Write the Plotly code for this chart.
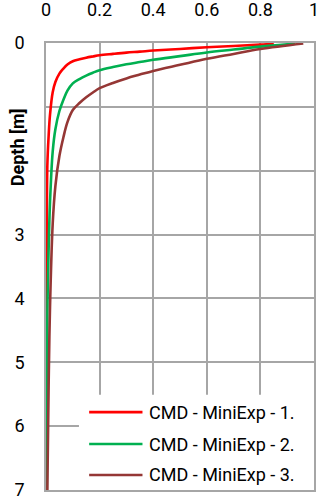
import plotly.graph_objects as go

# Cumulative response vs depth for the three CMD Mini-Explorer coil configurations
series_names = ["CMD - MiniExp - 1.", "CMD - MiniExp - 2.", "CMD - MiniExp - 3."]
series_colors = ["#FF0000", "#00B050", "#953735"]

depth_1 = [0.012, 0.026, 0.046, 0.067, 0.093, 0.118, 0.135, 0.150, 0.170, 0.192, 0.210, 0.230,
           0.255, 0.285, 0.336, 0.40, 0.48, 0.61, 0.77, 1.12, 1.44, 1.92, 3.0, 5.0, 7.0]
value_1 = [0.85, 0.80, 0.70, 0.60, 0.50, 0.40, 0.35, 0.30, 0.25, 0.20, 0.175, 0.15,
           0.125, 0.10, 0.08, 0.065, 0.05, 0.035, 0.025, 0.015, 0.010, 0.005, 0.003, 0.002, 0.001]

depth_2 = [0.010, 0.057, 0.103, 0.149, 0.206, 0.263, 0.298, 0.334, 0.376, 0.426, 0.466, 0.511,
           0.565, 0.632, 0.746, 0.888, 1.065, 1.35, 1.70, 2.49, 3.20, 4.26, 7.0]
value_2 = [0.93, 0.80, 0.70, 0.60, 0.50, 0.40, 0.35, 0.30, 0.25, 0.20, 0.175, 0.15,
           0.125, 0.10, 0.08, 0.065, 0.05, 0.035, 0.025, 0.015, 0.010, 0.005, 0.003]

depth_3 = [0.008, 0.094, 0.171, 0.248, 0.342, 0.437, 0.495, 0.555, 0.625, 0.708, 0.775, 0.85,
           0.94, 1.05, 1.24, 1.475, 1.77, 2.24, 2.83, 4.13, 5.31, 7.0]
value_3 = [0.96, 0.80, 0.70, 0.60, 0.50, 0.40, 0.35, 0.30, 0.25, 0.20, 0.175, 0.15,
           0.125, 0.10, 0.08, 0.065, 0.05, 0.035, 0.025, 0.015, 0.010, 0.005]

x_ticks = [0, 0.2, 0.4, 0.6, 0.8, 1]
x_tick_labels = ["0", "0.2", "0.4", "0.6", "0.8", "1"]
y_ticks = [0, 1, 2, 3, 4, 5, 6, 7]
y_tick_labels = ["0", "", "", "3", "4", "5", "6", "7"]
y_title = "Depth [m]"

depths = [depth_1, depth_2, depth_3]
values = [value_1, value_2, value_3]

FONT = "Roboto, Lato, sans-serif"
GRID = "#a6a6a6"

fig = go.Figure()
for name, color, d, v in zip(series_names, series_colors, depths, values):
    fig.add_trace(go.Scatter(
        x=v, y=d, name=name, mode="lines",
        line=dict(color=color, width=2.6, shape="spline", smoothing=1.0),
        showlegend=False,
    ))

# Legend block: white panel with long line samples and labels
legend_rows_y = [5.78, 6.28, 6.765]
fig.add_shape(type="rect", xref="x", yref="y", x0=0.123, x1=1.05, y0=5.51, y1=7.3,
              fillcolor="white", line=dict(width=0), layer="above")
for name, color, ry in zip(series_names, series_colors, legend_rows_y):
    fig.add_shape(type="line", xref="x", yref="y", x0=0.161, x1=0.36, y0=ry, y1=ry,
                  line=dict(color=color, width=2.6), layer="above")
    fig.add_annotation(x=0.377, y=ry, xref="x", yref="y", text=name, showarrow=False,
                       xanchor="left", yanchor="middle",
                       font=dict(family=FONT, size=18, color="black"))

fig.add_annotation(xref="paper", yref="paper", x=-0.108, y=0.767, text="<b>" + y_title + "</b>",
                   textangle=-90, showarrow=False, xanchor="center", yanchor="middle",
                   font=dict(family=FONT, size=18, color="black"))

fig.update_layout(
    width=320, height=497,
    margin=dict(l=46, r=6, t=43, b=7, autoexpand=False),
    paper_bgcolor="white", plot_bgcolor="white",
    font=dict(family=FONT, size=18, color="black"),
    xaxis=dict(range=[0, 1], side="top", tickvals=x_ticks, ticktext=x_tick_labels,
               showgrid=True, gridcolor=GRID, gridwidth=1.6, zeroline=False,
               showline=True, mirror=True, linecolor=GRID, linewidth=1.6,
               ticks="", ticklabelstandoff=18, ticklabeloverflow="allow",
               automargin=False, fixedrange=True),
    yaxis=dict(range=[7, 0], tickvals=y_ticks, ticktext=y_tick_labels,
               showgrid=True, gridcolor=GRID, gridwidth=1.6, zeroline=False,
               showline=True, mirror=True, linecolor=GRID, linewidth=1.6,
               ticks="", ticklabelstandoff=16, ticklabeloverflow="allow",
               automargin=False, fixedrange=True),
)

fig.write_html("out.html")
